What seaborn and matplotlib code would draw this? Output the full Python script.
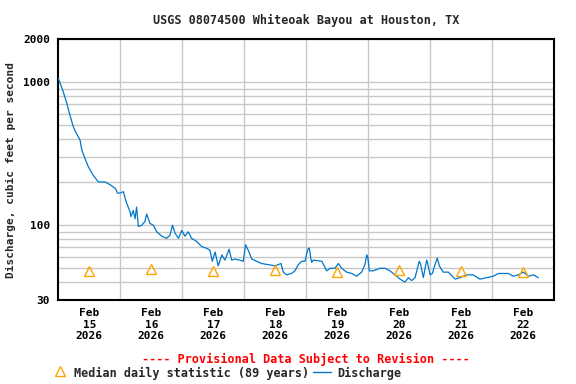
import numpy as np
import pandas as pd
import matplotlib
matplotlib.use("Agg")
import matplotlib.pyplot as plt
import matplotlib.dates as mdates
from matplotlib.lines import Line2D
import seaborn as sns

# ---- data ----
# hours since 2026-02-15 00:00 and discharge (cfs)
hours = [0.0, 1.9, 3.3, 4.5, 5.8, 6.7, 8.4, 9.1, 10.3, 11.6, 13.5, 15.5, 16.4, 18.1,
         20.3, 22.2, 22.9, 24.0, 25.2, 25.8, 26.5, 27.8, 28.1, 29.0, 29.7, 30.3,
         31.0, 32.3, 33.5, 34.2, 35.5, 36.8, 38.1, 40.0, 41.9, 43.2, 44.2, 45.2,
         46.5, 47.8, 49.0, 50.3, 51.6, 53.6, 55.5, 57.4, 58.7, 59.6, 60.7, 61.9,
         63.3, 64.5, 66.1, 67.1, 68.4, 70.3, 71.6, 72.5, 73.5, 74.9, 76.8, 78.7,
         81.3, 83.9, 86.2, 87.1, 88.4, 90.3, 91.6, 92.9, 94.2, 95.5, 96.2, 96.8,
         97.2, 97.7, 98.1, 98.7, 102.0, 103.9, 105.2, 107.1, 108.4, 109.7, 111.6,
         113.6, 115.5, 117.4, 118.7, 119.4, 119.8, 120.4, 121.9, 124.5, 126.5,
         128.4, 130.3, 132.3, 134.2, 135.5, 136.8, 138.1, 139.7, 140.3, 141.3,
         142.6, 143.0, 143.9, 144.8, 145.8, 146.7, 147.5, 149.0, 151.0, 153.6,
         155.5, 158.1, 160.6, 163.2, 165.8, 168.4, 170.3, 172.3, 174.2, 176.1,
         178.1, 180.0, 182.0, 183.9, 185.8]
discharge = [1070, 860, 713, 590, 489, 451, 395, 336, 294, 257, 224, 201, 201, 201,
             191, 180, 168, 168, 172, 156, 142, 124, 115, 127, 111, 134,
             98, 100, 106, 120, 103, 100, 90, 84, 81, 85, 100, 88,
             81, 92, 84, 90, 81, 77, 71, 69, 67, 56, 65, 52,
             62, 57, 68, 57, 58, 57, 56, 73, 67, 58, 56, 54,
             53, 52, 54, 47, 45, 46, 48, 53, 56, 56, 64, 69,
             69, 59, 55, 57, 56, 48, 50, 50, 54, 50, 47,
             46, 44, 47, 53, 62, 60, 48, 48, 50, 50,
             48, 45, 42, 40, 43, 41, 43, 56, 53, 43,
             57, 54, 45, 46, 53, 59, 52, 47, 47, 42,
             43, 45, 45, 42, 43, 44, 46, 46, 46, 44,
             45, 47, 44, 45, 43]

median_days = ["2026-02-15", "2026-02-16", "2026-02-17", "2026-02-18",
               "2026-02-19", "2026-02-20", "2026-02-21", "2026-02-22"]
median_values = [47.6, 49.2, 47.9, 49.0, 47.0, 48.5, 47.5, 47.0]

ytick_values = [30, 40, 50, 60, 70, 80, 90, 100, 200, 300, 400, 500, 600, 700,
                800, 900, 1000, 2000]
ytick_labels = ["30", "", "", "", "", "", "", "100", "", "", "", "", "", "",
                "", "", "1000", "2000"]

title = "USGS 08074500 Whiteoak Bayou at Houston, TX"
ylabel = "Discharge, cubic feet per second"
note = "---- Provisional Data Subject to Revision ----"

# ---- frames ----
start = pd.Timestamp("2026-02-15 00:00")
df = pd.DataFrame({"time": start + pd.to_timedelta(hours, unit="h"),
                   "discharge": discharge})
med = pd.DataFrame({"time": pd.to_datetime(median_days) + pd.Timedelta(hours=12),
                    "median": median_values})

sns.set_style("white")
mono = "DejaVu Sans Mono"
fs = 8

fig = plt.figure(figsize=(5.76, 3.84), dpi=100)
ax = fig.add_axes([58.3 / 576, 1 - 300 / 384, (554.3 - 58.3) / 576, (300 - 39.3) / 384])

blue = "#0077cc"
orange = "#ffa500"

sns.lineplot(data=df, x="time", y="discharge", ax=ax, color=blue, linewidth=0.9,
             zorder=3)
sns.lineplot(data=med, x="time", y="median", ax=ax, linestyle="", marker="^",
             markersize=7, markerfacecolor="none", markeredgecolor=orange,
             markeredgewidth=1.0, color=orange, zorder=4)

ax.set_yscale("log")
ax.set_ylim(30, 2000)
ax.set_yticks(ytick_values)
ax.set_yticklabels(ytick_labels)
ax.yaxis.set_minor_locator(matplotlib.ticker.NullLocator())

x0 = mdates.date2num(start)
ax.set_xlim(x0, x0 + 8)
ax.set_xticks([x0 + i + 0.5 for i in range(8)])
ax.set_xticklabels([f"Feb\n{15 + i}\n2026" for i in range(8)])
ax.set_xticks([x0 + i for i in range(1, 8)], minor=True)

ax.grid(False)
ax.yaxis.grid(True, which="major", color="#c8c8c8", linewidth=1.0)
ax.xaxis.grid(True, which="minor", color="#c8c8c8", linewidth=1.0)
ax.tick_params(axis="both", which="both", length=0)
ax.tick_params(axis="y", pad=6)
ax.tick_params(axis="x", pad=6)
for lab in ax.get_xticklabels() + ax.get_yticklabels():
    lab.set_fontfamily(mono)
    lab.set_fontweight("bold")
    lab.set_fontsize(fs)
    lab.set_color("black")
for lab in ax.get_xticklabels():
    lab.set_linespacing(1.15)

for s in ax.spines.values():
    s.set_color("black")
    s.set_linewidth(1.5)

ax.set_xlabel("")
ax.set_ylabel(ylabel, fontfamily=mono, fontweight="bold", fontsize=fs)
ax.yaxis.set_label_coords(-42 / 496, 0.5)

fig.text(306 / 576, 1 - 20 / 384, title, ha="center", va="center",
         fontfamily=mono, fontweight="bold", fontsize=8.5)
fig.text(306 / 576, 1 - 359 / 384, note, ha="center", va="center",
         fontfamily=mono, fontweight="bold", fontsize=8.5, color="#ff0000")

# legend
ly = 1 - 373 / 384
fig.add_artist(Line2D([60 / 576], [1 - 371 / 384], marker="^", linestyle="",
                      markersize=7, markerfacecolor="none",
                      markeredgecolor=orange, markeredgewidth=1.0,
                      transform=fig.transFigure))
fig.text(74 / 576, ly, "Median daily statistic (89 years)", ha="left", va="center",
         fontfamily=mono, fontweight="bold", fontsize=8.5)
fig.add_artist(Line2D([313 / 576, 331 / 576], [1 - 372 / 384, 1 - 372 / 384],
                      color=blue, linewidth=1.0, transform=fig.transFigure))
fig.text(337 / 576, ly, "Discharge", ha="left", va="center",
         fontfamily=mono, fontweight="bold", fontsize=8.5)

fig.savefig("out.png", dpi=100)
